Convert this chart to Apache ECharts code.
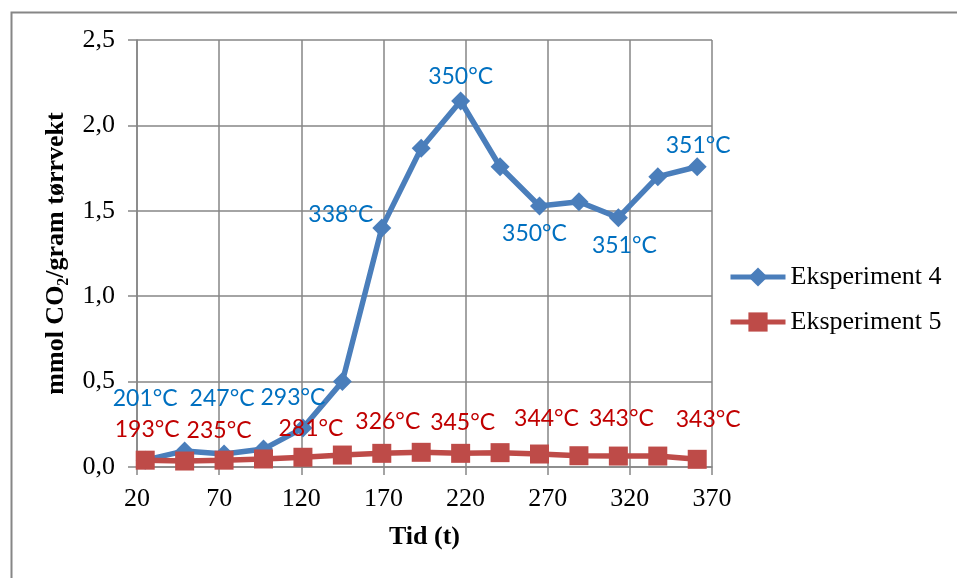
<!DOCTYPE html>
<html>
<head>
<meta charset="utf-8">
<script src="https://cdn.jsdelivr.net/npm/echarts@6/dist/echarts.min.js"></script>
<style>
html,body{margin:0;padding:0;background:#fff;}
#chart{width:957px;height:578px;}
</style>
</head>
<body>
<div id="chart"></div>
<script>
// ---- data ----
const times = [25, 49, 73, 97, 121, 145, 169, 193, 217, 241, 265, 289, 313, 337, 361];
const exp4 = [0.04, 0.094, 0.076, 0.105, 0.228, 0.50, 1.40, 1.866, 2.143, 1.758, 1.528, 1.553, 1.46, 1.70, 1.758];
const exp5 = [0.04, 0.035, 0.04, 0.047, 0.057, 0.07, 0.08, 0.086, 0.08, 0.084, 0.076, 0.066, 0.064, 0.064, 0.045];
const temps4 = ['201°C', '', '247°C', '', '293°C', '', '338°C', '', '350°C', '', '350°C', '', '351°C', '', '351°C'];
const temps5 = ['193°C', '', '235°C', '', '281°C', '', '326°C', '', '345°C', '', '344°C', '', '343°C', '', '343°C'];
const seriesNames = ['Eksperiment 4', 'Eksperiment 5'];
const xTitle = 'Tid (t)';

// ---- label placement (layout only) ----
const offsets4 = [[0,-62],null,[-2,-55],null,[-10,-30],null,[-41,-13],null,[0,-24],null,[-5,28],null,[6,28],null,[1,-21]];
const offsets5 = [[2,-31],null,[-5,-30],null,[8,-29],null,[6,-32],null,[2,-31],null,[7,-35],null,[3,-37],null,[11,-40]];

const serif = '"Liberation Serif", "Times New Roman", serif';
const labelFont = 'Lato, "Liberation Sans", sans-serif';

function build(vals, temps, offs, color) {
  return vals.map((v, i) => {
    const item = { value: [times[i], v] };
    if (temps[i]) {
      item.label = {
        show: true, position: 'inside', formatter: temps[i],
        offset: offs[i], color: color, fontFamily: labelFont, fontSize: 23
      };
    }
    return item;
  });
}

const chart = echarts.init(document.getElementById('chart'), null, { renderer: 'canvas' });
const gridColor = '#868686';
chart.setOption({
  animation: false,
  backgroundColor: '#ffffff',
  graphic: [{
    type: 'rect', left: 9, top: 10, silent: true, z: -10,
    shape: { width: 1000, height: 1000 },
    style: { fill: 'none', stroke: gridColor, lineWidth: 2 }
  }],
  grid: { left: 137, top: 40, width: 575, height: 427, containLabel: false },
  legend: {
    orient: 'vertical', left: 723, top: 259, itemWidth: 55, itemHeight: 24, itemGap: 19,
    lineStyle: { width: 5 },
    textStyle: { fontFamily: serif, fontSize: 26, color: '#000' },
    data: seriesNames
  },
  xAxis: {
    type: 'value', min: 20, max: 370, interval: 50,
    name: xTitle, nameLocation: 'middle', nameGap: 57,
    nameTextStyle: { fontFamily: serif, fontSize: 26, fontWeight: 'bold', color: '#000' },
    axisLine: { show: true, lineStyle: { color: gridColor, width: 1.5 } },
    axisTick: { show: true, length: 8, lineStyle: { color: gridColor, width: 1.5 } },
    splitLine: { show: true, lineStyle: { color: gridColor, width: 1.5 } },
    axisLabel: { fontFamily: serif, fontSize: 26, color: '#000', margin: 19 }
  },
  yAxis: {
    type: 'value', min: 0, max: 2.5, interval: 0.5,
    name: '{a|mmol CO}{s|2}{a|/gram tørrvekt}', nameLocation: 'middle', nameGap: 64, nameRotate: 90,
    nameTextStyle: {
      rich: {
        a: { fontFamily: serif, fontSize: 26, fontWeight: 'bold', color: '#000' },
        s: { fontFamily: serif, fontSize: 16, fontWeight: 'bold', color: '#000', padding: [14, 0, 0, 0] }
      }
    },
    axisLine: { show: true, lineStyle: { color: gridColor, width: 1.5 } },
    axisTick: { show: true, length: 9, lineStyle: { color: gridColor, width: 1.5 } },
    splitLine: { show: true, lineStyle: { color: gridColor, width: 1.5 } },
    axisLabel: {
      fontFamily: serif, fontSize: 26, color: '#000', margin: 22,
      formatter: v => v.toFixed(1).replace('.', ',')
    }
  },
  series: [
    {
      name: seriesNames[0], type: 'line', data: build(exp4, temps4, offsets4, '#0070C0'),
      symbol: 'diamond', symbolSize: 19,
      lineStyle: { color: '#4A7EBB', width: 5.5 },
      itemStyle: { color: '#4A7EBB' },
      label: { show: false }
    },
    {
      name: seriesNames[1], type: 'line', data: build(exp5, temps5, offsets5, '#C00000'),
      symbol: 'rect', symbolSize: 19,
      lineStyle: { color: '#BE4B48', width: 5.5 },
      itemStyle: { color: '#BE4B48' },
      label: { show: false }
    }
  ]
});
</script>
</body>
</html>
